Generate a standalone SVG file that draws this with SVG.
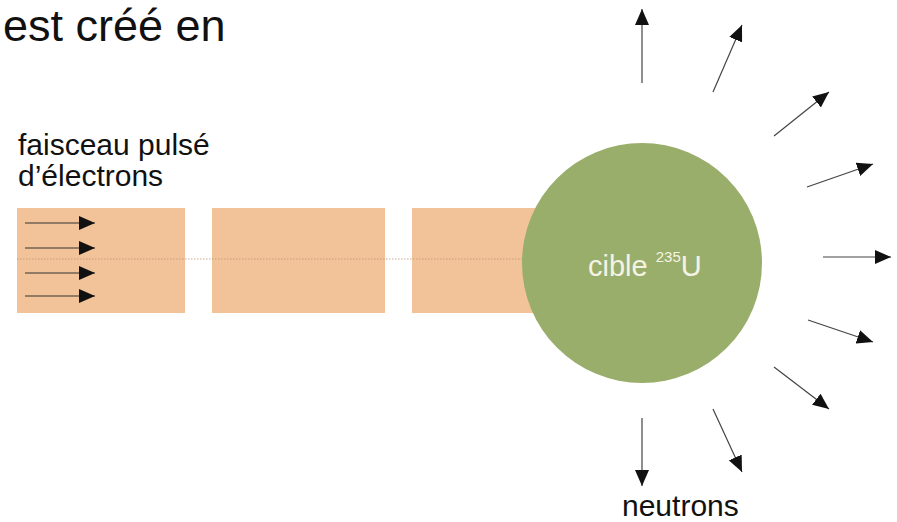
<svg xmlns="http://www.w3.org/2000/svg" width="897" height="522" viewBox="0 0 897 522">
<style>
  .txt { font-family: "Liberation Sans", Arial, sans-serif; fill: #111; }
  .pulse { fill: #f2c398; }
  .ray { stroke: #444; stroke-width: 1.2; fill: none; marker-end: url(#ah); }
  .beam { stroke: #333; stroke-width: 1.2; fill: none; marker-end: url(#ah); }
</style>
<defs>
  <marker id="ah" markerUnits="userSpaceOnUse" markerWidth="16" markerHeight="14" refX="16" refY="7" orient="auto">
    <path d="M0,0 L16,7 L0,14 z" fill="#111"/>
  </marker>
</defs>
<rect width="897" height="522" fill="#fff"/>
<text class="txt" x="3" y="41" font-size="45">est créé en</text>
<g id="beam-label">
  <text class="txt" x="18" y="155" font-size="30">faisceau pulsé</text>
  <text class="txt" x="18" y="186" font-size="30">d’électrons</text>
</g>
<g id="pulse1"><rect class="pulse" x="17" y="208" width="168" height="105"/></g>
<g id="pulse2"><rect class="pulse" x="212" y="208" width="173" height="105"/></g>
<g id="pulse3"><rect class="pulse" x="412" y="208" width="150" height="105"/></g>
<line x1="17" y1="259" x2="540" y2="259" stroke="#b89478" stroke-width="0.8" stroke-dasharray="1.5,1.5"/>
<g id="target">
  <circle cx="642" cy="263" r="120" fill="#9aae6b"/>
  <text x="588" y="276" font-family="Liberation Sans, Arial, sans-serif" font-size="29" fill="#f5f3e6">cible <tspan font-size="15" dy="-14">235</tspan><tspan dy="14">U</tspan></text>
</g>
<g id="connectors">
  <line class="beam" x1="25" y1="223" x2="95" y2="223"/>
  <line class="beam" x1="25" y1="248" x2="95" y2="248"/>
  <line class="beam" x1="25" y1="273" x2="95" y2="273"/>
  <line class="beam" x1="25" y1="296" x2="95" y2="296"/>
  <line class="ray" x1="642" y1="83" x2="642" y2="9"/>
  <line class="ray" x1="713" y1="92" x2="742" y2="25"/>
  <line class="ray" x1="774" y1="136" x2="829" y2="92"/>
  <line class="ray" x1="807" y1="187" x2="873" y2="164"/>
  <line class="ray" x1="823" y1="257" x2="891" y2="257"/>
  <line class="ray" x1="808" y1="320" x2="873" y2="342"/>
  <line class="ray" x1="774" y1="367" x2="829" y2="409"/>
  <line class="ray" x1="713" y1="409" x2="742" y2="472"/>
  <line class="ray" x1="642" y1="418" x2="642" y2="486"/>
</g>
<g id="neutrons-label">
  <text class="txt" x="622" y="516" font-size="30">neutrons</text>
</g>
</svg>
